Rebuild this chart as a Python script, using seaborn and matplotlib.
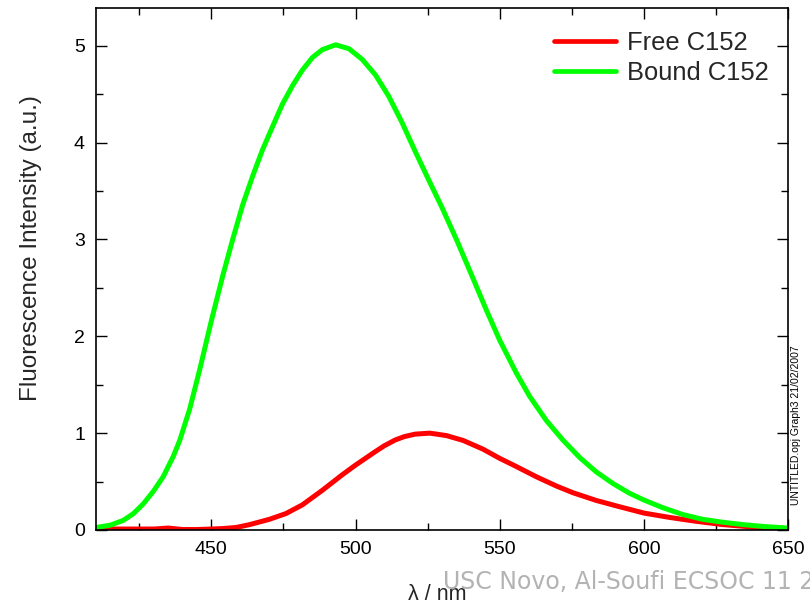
import matplotlib
matplotlib.use("Agg")
import matplotlib.pyplot as plt
import seaborn as sns
import pandas as pd
from matplotlib.ticker import MultipleLocator

# ---- data ----
bound_wl = [410, 415, 419.5, 423, 426.4, 429.9, 433.3, 436.8, 439.1, 442.5, 446, 450,
            454, 457.5, 460.9, 464.4, 467.8, 471.3, 474.7, 478.2, 481.6, 485.1, 488.5,
            493.1, 497.7, 502.3, 506.9, 511.5, 516.1, 520.7, 525.3, 530, 535, 539.6,
            545.4, 550, 555.8, 560.4, 566.2, 571.9, 577.7, 583.5, 589.3, 595, 600,
            606.6, 613.5, 620.4, 627.4, 634.3, 641.2, 650]
bound_int = [0.026, 0.05, 0.10, 0.17, 0.27, 0.40, 0.55, 0.76, 0.93, 1.25, 1.66, 2.16,
             2.63, 3.01, 3.36, 3.66, 3.93, 4.17, 4.40, 4.59, 4.75, 4.88, 4.96,
             5.01, 4.97, 4.86, 4.70, 4.48, 4.21, 3.91, 3.62, 3.33, 3.00, 2.68,
             2.27, 1.96, 1.62, 1.38, 1.13, 0.93, 0.75, 0.60, 0.48, 0.38, 0.31,
             0.23, 0.16, 0.11, 0.08, 0.056, 0.037, 0.02]

free_wl = [410, 420, 430, 435, 440, 445, 450, 454, 458.6, 463.2, 470.1, 475.9, 481.6,
           488.5, 495.4, 500, 506.9, 510, 513.8, 517, 520.7, 525.8, 531.5, 537.3,
           544.2, 550, 555.8, 562.7, 569.6, 575.4, 583.5, 591.6, 600, 608.9, 618.1,
           627.4, 636.6, 647, 650]
free_int = [0.01, 0.01, 0.01, 0.02, 0.005, 0.005, 0.01, 0.015, 0.026, 0.055, 0.11, 0.17,
            0.26, 0.41, 0.57, 0.67, 0.81, 0.87, 0.93, 0.965, 0.99, 1.00, 0.975, 0.925,
            0.835, 0.74, 0.655, 0.55, 0.455, 0.385, 0.305, 0.24, 0.175, 0.13, 0.09,
            0.056, 0.033, 0.007, 0.005]

series_names = ["Free C152", "Bound C152"]
series_colors = ["#ff0000", "#00ff00"]
x_ticks = [450, 500, 550, 600, 650]
y_ticks = [0, 1, 2, 3, 4, 5]

df = pd.concat([
    pd.DataFrame({"wl": free_wl, "I": free_int, "series": series_names[0]}),
    pd.DataFrame({"wl": bound_wl, "I": bound_int, "series": series_names[1]}),
], ignore_index=True)

sns.set_theme(style="ticks")
plt.rcParams["font.family"] = ["Liberation Sans", "DejaVu Sans"]

fig = plt.figure(figsize=(8.1, 6.0), dpi=100)
ax = fig.add_axes([96 / 810, 1 - 530 / 600, 692 / 810, 522 / 600])

sns.lineplot(data=df, x="wl", y="I", hue="series", hue_order=series_names,
             palette=dict(zip(series_names, series_colors)), linewidth=3.6,
             ax=ax, legend=True)
for ln in ax.get_lines():
    ln.set_solid_joinstyle("round")

ax.set_xlim(410, 650)
ax.set_ylim(0, 5.39)
ax.set_xticks(x_ticks)
ax.set_yticks(y_ticks)
ax.xaxis.set_minor_locator(MultipleLocator(25))
ax.yaxis.set_minor_locator(MultipleLocator(0.5))
ax.tick_params(which="both", direction="in", top=True, right=True,
               labelsize=14, width=1.0, color="black", labelcolor="black", pad=8)
ax.tick_params(which="major", length=8)
ax.tick_params(which="minor", length=5)
for s in ax.spines.values():
    s.set_visible(True)
    s.set_color("black")
    s.set_linewidth(1.2)

ax.set_xlabel("λ / nm", fontsize=15.5, va="top")
ax.xaxis.set_label_coords(0.493, -0.103)
ax.set_ylabel("Fluorescence Intensity (a.u.)", fontsize=17.5)
ax.yaxis.set_label_coords(-0.078, 0.54)

leg = ax.legend(loc="upper left", bbox_to_anchor=(554 / 810, 1 - 31 / 600),
                bbox_transform=fig.transFigure, frameon=False, fontsize=18.4,
                handlelength=2.42, handletextpad=0.43, labelspacing=0.25,
                borderpad=0, borderaxespad=0)
for line in leg.get_lines():
    line.set_linewidth(3.4)
    line.set_solid_capstyle("round")

fig.text(443 / 810, 1 - 589 / 600, "USC Novo, Al-Soufi ECSOC 11 2007",
         color="#b3b3b3", fontsize=17, family=["DejaVu Sans"], va="baseline", ha="left")
fig.text(796 / 810, 1 - 505 / 600, "UNTITLED.opj Graph3 21/02/2007",
         rotation=90, fontsize=7.5, color="black",
         family=["Liberation Sans Narrow", "Liberation Sans"], ha="center", va="bottom")

fig.savefig("out.png", dpi=100)
